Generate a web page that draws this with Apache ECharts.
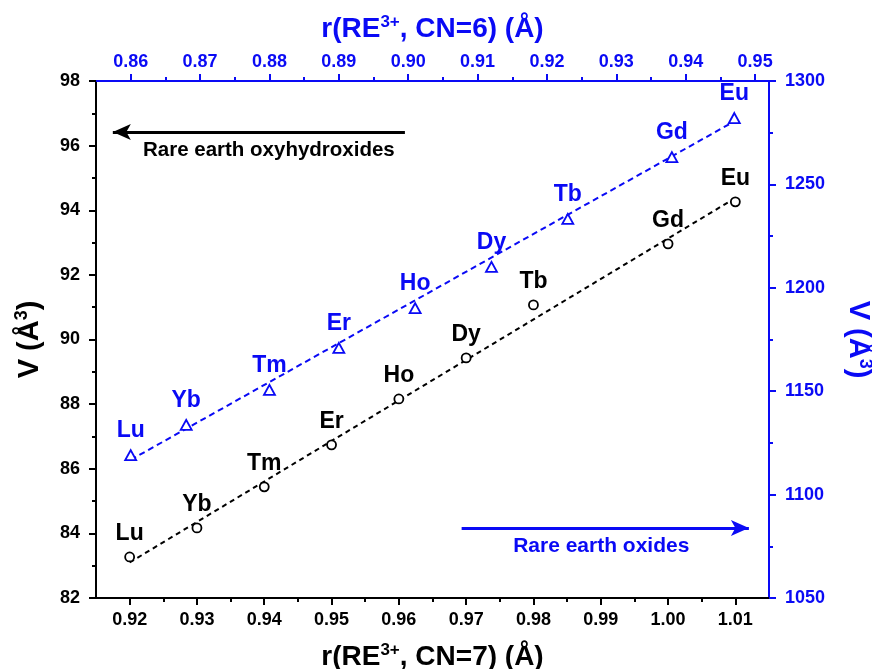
<!DOCTYPE html>
<html>
<head>
<meta charset="utf-8">
<script src="https://cdn.jsdelivr.net/npm/echarts@6/dist/echarts.min.js"></script>
<style>html,body{margin:0;padding:0;background:#fff;}#c{width:872px;height:669px;}</style>
</head>
<body>
<div id="c"></div>
<script>
// ---- data ----
var elements = ['Lu', 'Yb', 'Tm', 'Er', 'Ho', 'Dy', 'Tb', 'Gd', 'Eu'];
// oxyhydroxides: ionic radius CN=7 (bottom axis) vs cell volume (left axis)
var rCN7 = [0.92, 0.93, 0.94, 0.95, 0.96, 0.97, 0.98, 1.00, 1.01];
var vOxyhydroxide = [83.27, 84.17, 85.44, 86.74, 88.16, 89.43, 91.07, 92.96, 94.26];
// oxides: ionic radius CN=6 (top axis) vs cell volume (right axis)
var rCN6 = [0.860, 0.868, 0.880, 0.890, 0.901, 0.912, 0.923, 0.938, 0.947];
var vOxide = [1119.1, 1133.7, 1150.6, 1170.9, 1190.2, 1210.1, 1233.3, 1263.2, 1282.1];
// linear fit lines (end points)
var fitOxyhydroxideX = [0.92, 1.01];
var fitOxyhydroxideY = [83.10, 94.38];
var fitOxideX = [0.860, 0.947];
var fitOxideY = [1116.8, 1280.5];
// tick labels
var bottomTicks = [0.92, 0.93, 0.94, 0.95, 0.96, 0.97, 0.98, 0.99, 1.00, 1.01];
var bottomMinor = [0.925, 0.935, 0.945, 0.955, 0.965, 0.975, 0.985, 0.995, 1.005];
var topTicks = [0.86, 0.87, 0.88, 0.89, 0.90, 0.91, 0.92, 0.93, 0.94, 0.95];
var topMinor = [0.865, 0.875, 0.885, 0.895, 0.905, 0.915, 0.925, 0.935, 0.945];
// annotation arrows
var arrowOxyhydroxide = [[0.9175, 96.42], [0.9609, 96.42]];
var arrowOxide = [[0.9077, 1083.8], [0.9491, 1083.8]];

var BLUE = '#0a0af5';
var FONT = 'Liberation Sans';

function zip(a, b) { return a.map(function (v, i) { return [v, b[i]]; }); }

function nameRich(color, size) {
  return {
    n: { fontFamily: FONT, fontWeight: 'bold', fontSize: size, color: color },
    s: { fontFamily: FONT, fontWeight: 'bold', fontSize: Math.round(size * 0.62), color: color, padding: [0, 0, Math.round(size * 0.5), 0] }
  };
}

var chart = echarts.init(document.getElementById('c'), null, { renderer: 'canvas' });

var option = {
  animation: false,
  backgroundColor: '#ffffff',
  grid: { left: 96, right: 103, top: 81, bottom: 71, containLabel: false, outerBoundsMode: 'none' },
  xAxis: [
    {
      type: 'value', position: 'bottom', min: 0.915, max: 1.015,
      name: '{n|r(RE}{s|3+}{n|, CN=7) (Å)}', nameLocation: 'middle', nameGap: 44,
      nameTextStyle: { rich: nameRich('#000', 28) },
      axisLine: { show: true, onZero: false, lineStyle: { color: '#000', width: 2 } },
      axisTick: { show: true, inside: false, length: 7, lineStyle: { width: 2, color: '#000' }, customValues: bottomTicks },
      axisLabel: { show: true, customValues: bottomTicks, margin: 13, color: '#000', fontFamily: FONT, fontWeight: 'bold', fontSize: 18,
        formatter: function (v) { return v.toFixed(2); } },
      splitLine: { show: false }
    },
    {
      type: 'value', position: 'bottom', min: 0.915, max: 1.015,
      axisLine: { show: false, onZero: false },
      axisTick: { show: true, length: 4, lineStyle: { width: 2, color: '#000' }, customValues: bottomMinor },
      axisLabel: { show: false },
      splitLine: { show: false }
    },
    {
      type: 'value', position: 'top', min: 0.855, max: 0.952,
      name: '{n|r(RE}{s|3+}{n|, CN=6) (Å)}', nameLocation: 'middle', nameGap: 36,
      nameTextStyle: { rich: nameRich(BLUE, 28) },
      axisLine: { show: true, onZero: false, lineStyle: { color: BLUE, width: 2 } },
      axisTick: { show: true, length: 7, lineStyle: { width: 2, color: BLUE }, customValues: topTicks },
      axisLabel: { show: true, customValues: topTicks, margin: 10, color: BLUE, fontFamily: FONT, fontWeight: 'bold', fontSize: 18,
        formatter: function (v) { return v.toFixed(2); } },
      splitLine: { show: false }
    },
    {
      type: 'value', position: 'top', min: 0.855, max: 0.952,
      axisLine: { show: false, onZero: false },
      axisTick: { show: true, length: 4, lineStyle: { width: 2, color: BLUE }, customValues: topMinor },
      axisLabel: { show: false },
      splitLine: { show: false }
    }
  ],
  yAxis: [
    {
      type: 'value', position: 'left', min: 82, max: 98, interval: 2,
      name: '{n|V (Å}{s|3}{n|)}', nameLocation: 'middle', nameGap: 50, nameRotate: 90,
      nameTextStyle: { rich: nameRich('#000', 29) },
      axisLine: { show: true, onZero: false, lineStyle: { color: '#000', width: 2 } },
      axisTick: { show: true, length: 7, lineStyle: { width: 2, color: '#000' } },
      minorTick: { show: true, splitNumber: 2, length: 4, lineStyle: { width: 2, color: '#000' } },
      axisLabel: { margin: 16, color: '#000', fontFamily: FONT, fontWeight: 'bold', fontSize: 18 },
      splitLine: { show: false }, minorSplitLine: { show: false }
    },
    {
      type: 'value', position: 'right', min: 1050, max: 1300, interval: 50,
      name: '{n|V (Å}{s|3}{n|)}', nameLocation: 'middle', nameGap: 72, nameRotate: -90,
      nameTextStyle: { rich: nameRich(BLUE, 29) },
      axisLine: { show: true, onZero: false, lineStyle: { color: BLUE, width: 2 } },
      axisTick: { show: true, length: 7, lineStyle: { width: 2, color: BLUE } },
      minorTick: { show: true, splitNumber: 2, length: 4, lineStyle: { width: 2, color: BLUE } },
      axisLabel: { margin: 16, color: BLUE, fontFamily: FONT, fontWeight: 'bold', fontSize: 18,
        formatter: function (v) { return String(v); } },
      splitLine: { show: false }, minorSplitLine: { show: false }
    }
  ],
  series: [
    {
      type: 'line', xAxisIndex: 0, yAxisIndex: 0, data: zip(fitOxyhydroxideX, fitOxyhydroxideY),
      symbol: 'none', silent: true, z: 1,
      lineStyle: { color: '#000', width: 2, type: [5, 4] }
    },
    {
      type: 'scatter', xAxisIndex: 0, yAxisIndex: 0, data: zip(rCN7, vOxyhydroxide),
      symbol: 'circle', symbolSize: 9, z: 3,
      itemStyle: { color: '#fff', borderColor: '#000', borderWidth: 1.8, opacity: 1 },
      label: { show: true, position: 'top', distance: 6, color: '#000', fontFamily: FONT, fontWeight: 'bold', fontSize: 23,
        formatter: function (p) { return elements[p.dataIndex]; } },
      markLine: {
        silent: true, symbol: ['arrow', 'none'], symbolSize: [12, 18],
        lineStyle: { color: '#000', width: 3, type: 'solid', opacity: 1 },
        label: { show: true, position: 'insideMiddleBottom', distance: 8, formatter: 'Rare earth oxyhydroxides',
          padding: [0, 0, 0, 20],
          color: '#000', fontFamily: FONT, fontWeight: 'bold', fontSize: 20.5 },
        data: [[{ coord: arrowOxyhydroxide[0] }, { coord: arrowOxyhydroxide[1] }]]
      }
    },
    {
      type: 'line', xAxisIndex: 2, yAxisIndex: 1, data: zip(fitOxideX, fitOxideY),
      symbol: 'none', silent: true, z: 1,
      lineStyle: { color: BLUE, width: 2, type: [6, 4] }
    },
    {
      type: 'scatter', xAxisIndex: 2, yAxisIndex: 1, data: zip(rCN6, vOxide),
      symbol: 'triangle', symbolSize: [11, 10], z: 3,
      itemStyle: { color: '#fff', borderColor: BLUE, borderWidth: 1.8, opacity: 1 },
      label: { show: true, position: 'top', distance: 7, color: BLUE, fontFamily: FONT, fontWeight: 'bold', fontSize: 23,
        formatter: function (p) { return elements[p.dataIndex]; } },
      markLine: {
        silent: true, symbol: ['none', 'arrow'], symbolSize: [12, 18],
        lineStyle: { color: BLUE, width: 3, type: 'solid', opacity: 1 },
        label: { show: true, position: 'insideMiddleBottom', distance: 8, formatter: 'Rare earth oxides',
          padding: [0, 8, 0, 0],
          color: BLUE, fontFamily: FONT, fontWeight: 'bold', fontSize: 21 },
        data: [[{ coord: arrowOxide[0] }, { coord: arrowOxide[1] }]]
      }
    }
  ]
};
chart.setOption(option);
</script>
</body>
</html>
